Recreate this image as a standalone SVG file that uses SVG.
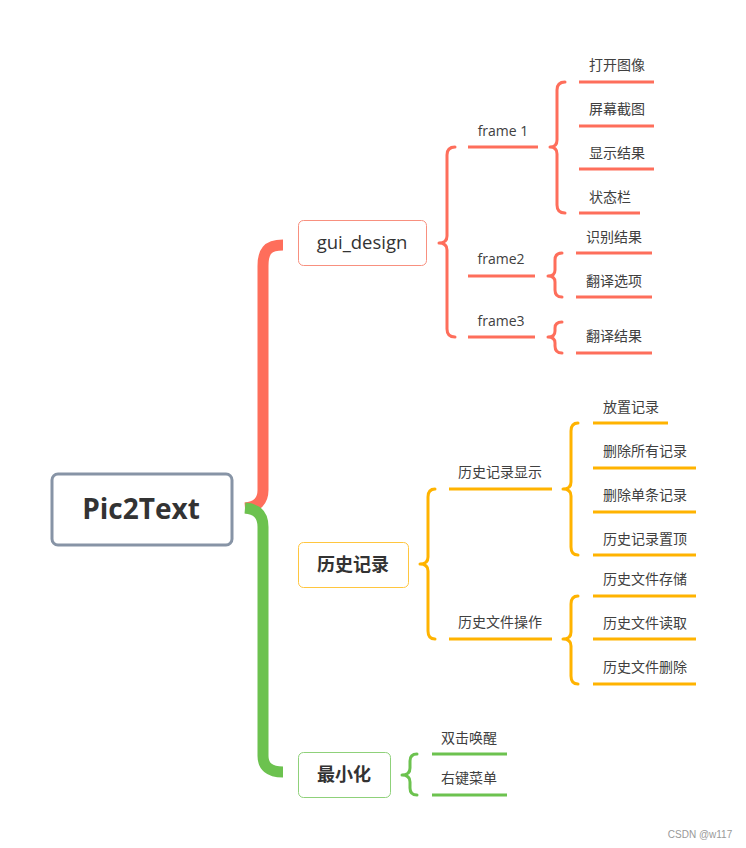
<svg xmlns="http://www.w3.org/2000/svg" width="746" height="848" viewBox="0 0 746 848">
<style>
.t{font-family:"Open Sans","Noto Sans CJK SC",sans-serif;fill:#333;}
.s{font-size:14px;text-anchor:middle;fill:#404040;}
.r{stroke:#fe6e5b;fill:none;}
.y{stroke:#ffb300;fill:none;}
.g{stroke:#6cc24f;fill:none;}
.br{stroke-width:3;stroke-linecap:round;stroke-linejoin:round;}
.ln{stroke-width:3;}
</style>
<rect width="746" height="848" fill="#fff"/>
<g id="connectors">
<path class="r" stroke-width="11" d="M283,245 C267,245 263,252 263,266 L263,490 C263,501 257,507 245,508"/>
<path class="g" stroke-width="11" d="M245,508 C257,509 263,515 263,527 L263,756 C263,766 269,772 283,772"/>
<path class="r br" d="M455,147 Q447,147 447,155 L447,236 Q447,243 439,243 Q447,243 447,250 L447,329 Q447,337 455,337"/>
<g class="r ln">
<line x1="468" y1="147" x2="538" y2="147"/>
<line x1="468" y1="276" x2="535" y2="276"/>
<line x1="468" y1="337" x2="535" y2="337"/>
</g>
<path class="r br" d="M565,82 Q557,82 557,90 L557,140 Q557,147 550,147 Q557,147 557,154 L557,205 Q557,213 565,213"/>
<path class="r br" d="M562,253 Q555,253 555,260 L555,270 Q555,276 548,276 Q555,276 555,282 L555,290 Q555,297 562,297"/>
<path class="r br" d="M562,322 Q555,322 555,328 L555,331 Q555,337 548,337 Q555,337 555,343 L555,346 Q555,353 562,353"/>
<g class="r ln">
<line x1="579" y1="82" x2="654" y2="82"/>
<line x1="579" y1="126" x2="654" y2="126"/>
<line x1="579" y1="169" x2="654" y2="169"/>
<line x1="579" y1="213" x2="640" y2="213"/>
<line x1="576" y1="253" x2="652" y2="253"/>
<line x1="576" y1="297" x2="652" y2="297"/>
<line x1="576" y1="353" x2="652" y2="353"/>
</g>
<path class="y br" d="M435,489 Q428,489 428,497 L428,557 Q428,564 420,564 Q428,564 428,571 L428,631 Q428,639 435,639"/>
<g class="y ln">
<line x1="449" y1="489" x2="552" y2="489"/>
<line x1="449" y1="639" x2="552" y2="639"/>
</g>
<path class="y br" d="M578,423 Q571,423 571,431 L571,482 Q571,489 563,489 Q571,489 571,496 L571,547 Q571,555 578,555"/>
<path class="y br" d="M578,596 Q571,596 571,604 L571,632 Q571,639 563,639 Q571,639 571,646 L571,676 Q571,684 578,684"/>
<g class="y ln">
<line x1="593" y1="423" x2="668" y2="423"/>
<line x1="593" y1="468" x2="696" y2="468"/>
<line x1="593" y1="512" x2="696" y2="512"/>
<line x1="593" y1="555" x2="696" y2="555"/>
<line x1="593" y1="596" x2="696" y2="596"/>
<line x1="593" y1="639" x2="696" y2="639"/>
<line x1="593" y1="684" x2="696" y2="684"/>
</g>
<path class="g br" d="M417,754 Q410,754 410,761 L410,768 Q410,775 402,775 Q410,775 410,782 L410,788 Q410,795 417,795"/>
<g class="g ln">
<line x1="432" y1="754" x2="507" y2="754"/>
<line x1="432" y1="795" x2="507" y2="795"/>
</g>
</g>
<g id="root">
<rect x="52" y="474" width="180" height="71" rx="6" fill="#fff" stroke="#8794a6" stroke-width="3"/>
<text class="t" x="141" y="519" font-size="28" font-weight="bold" text-anchor="middle">Pic2Text</text>
</g>
<g id="gui_design">
<rect x="298.5" y="220.5" width="128" height="45" rx="5" fill="#fff" stroke="#f8907f"/>
<text class="t" x="362" y="249" font-size="18.5" text-anchor="middle">gui_design</text>
</g>
<g id="history">
<rect x="298.5" y="542.5" width="110" height="45" rx="5" fill="#fff" stroke="#ffc63f"/>
<text class="t" x="353" y="571" font-size="18" font-weight="bold" text-anchor="middle">历史记录</text>
</g>
<g id="minimize">
<rect x="298.5" y="752.5" width="92" height="45" rx="5" fill="#fff" stroke="#8fd17a"/>
<text class="t" x="344" y="781" font-size="18" font-weight="bold" text-anchor="middle">最小化</text>
</g>
<g id="frame1"><text class="t s" x="503" y="136">frame 1</text></g>
<g id="frame2"><text class="t s" x="501" y="264">frame2</text></g>
<g id="frame3"><text class="t s" x="501" y="326">frame3</text></g>
<g id="n1"><text class="t s" x="617" y="70">打开图像</text></g>
<g id="n2"><text class="t s" x="617" y="114">屏幕截图</text></g>
<g id="n3"><text class="t s" x="617" y="158">显示结果</text></g>
<g id="n4"><text class="t s" x="610" y="202">状态栏</text></g>
<g id="n5"><text class="t s" x="614" y="242">识别结果</text></g>
<g id="n6"><text class="t s" x="614" y="286">翻译选项</text></g>
<g id="n7"><text class="t s" x="614" y="341">翻译结果</text></g>
<g id="h1"><text class="t s" x="500" y="477">历史记录显示</text></g>
<g id="h2"><text class="t s" x="500" y="627">历史文件操作</text></g>
<g id="h11"><text class="t s" x="631" y="412">放置记录</text></g>
<g id="h12"><text class="t s" x="645" y="456">删除所有记录</text></g>
<g id="h13"><text class="t s" x="645" y="500">删除单条记录</text></g>
<g id="h14"><text class="t s" x="645" y="544">历史记录置顶</text></g>
<g id="h21"><text class="t s" x="645" y="584">历史文件存储</text></g>
<g id="h22"><text class="t s" x="645" y="628">历史文件读取</text></g>
<g id="h23"><text class="t s" x="645" y="672">历史文件删除</text></g>
<g id="m1"><text class="t s" x="469" y="743">双击唤醒</text></g>
<g id="m2"><text class="t s" x="469" y="783">右键菜单</text></g>
<text x="700" y="838" font-family="Liberation Sans, sans-serif" font-size="10" fill="#999" text-anchor="middle">CSDN @w117</text>
</svg>
